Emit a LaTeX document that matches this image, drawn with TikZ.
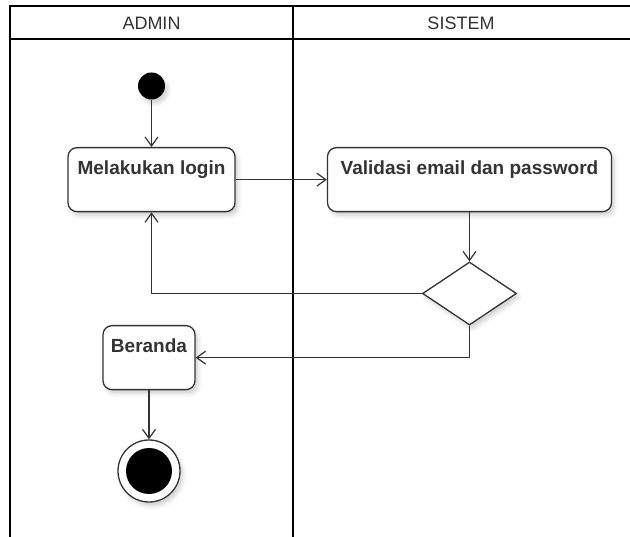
\documentclass[tikz,border=0pt]{standalone}
\usepackage{fontspec}
\setmainfont{Liberation Sans}
\usetikzlibrary{positioning,arrows.meta,shapes.geometric,shadows.blur}
\definecolor{ink}{RGB}{51,51,51}
\definecolor{laneInk}{RGB}{0,0,0}

\begin{document}
\begin{tikzpicture}[
  x=1pt, y=-1pt,
  >={Straight Barb[length=9pt,width=13pt]},
  soft/.style={blur shadow={shadow xshift=3pt, shadow yshift=-4pt, shadow blur radius=4pt, shadow opacity=18}},
  act/.style={rounded corners=9pt, draw=ink, line width=1.3pt, fill=white, inner sep=0pt, soft,
              font=\fontsize{19}{22}\selectfont\bfseries, text=ink, text height=27pt, text depth=37pt, anchor=north},
  decision/.style={diamond, draw=ink, line width=1.3pt, fill=white, inner sep=0pt, soft,
                   minimum width=94pt, minimum height=63pt},
  initial/.style={circle, fill=black, inner sep=0pt, minimum size=27pt, soft},
  endring/.style={circle, draw=ink, line width=1.3pt, fill=white, inner sep=0pt, minimum size=62pt, soft},
  enddot/.style={circle, fill=black, inner sep=0pt, minimum size=46pt},
  flow/.style={->, draw=ink, line width=1.2pt},
  lane/.style={draw=laneInk, line width=2.6pt},
  hdr/.style={font=\fontsize{18}{20}\selectfont, text=ink}
]
\useasboundingbox (0,0) rectangle (630,537);

% ---------------- SWIMLANES ----------------
\draw[lane] (10,537) -- (10,6) -- (630,6);
\draw[lane] (10,39) -- (630,39);
\draw[lane] (293,6) -- (293,537);
\node (hAdmin)  at (151.5,23) [hdr] {ADMIN};
\node (hSistem) at (461,23)   [hdr] {SISTEM};

% ---------------- ACTIVITIES ----------------
\node (start) at (151.5,86) [initial] {};
\node (login) at (151.5,147) [act, minimum width=167pt] {Melakukan login};
\node (valid) at (469.5,147) [act, minimum width=284pt] {Validasi email dan password};
\node (dec)   at (469.5,293.5) [decision] {};
\node (home)  at (149,325) [act, minimum width=92pt] {Beranda};
\node (stop)  at (149,471) [endring] {};
\node (stopDot) at (stop) [enddot] {};

% ---------------- FLOWS ----------------
\draw[flow] (start) -- (login);
\draw[flow] (login) -- (valid);
\draw[flow] (valid) -- (dec);
\draw[flow] (dec.west) -| (login.south);
\draw[flow] (dec.south) |- (home.east);
\draw[flow] (home) -- (stop);

\end{tikzpicture}
\end{document}
